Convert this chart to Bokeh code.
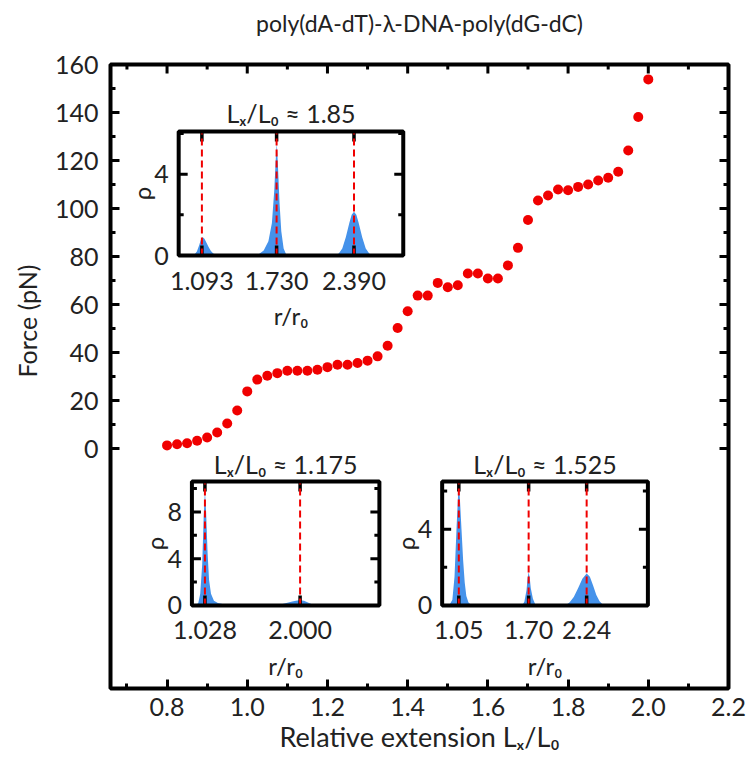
import math
from bokeh.plotting import figure
from bokeh.models import Range1d, FixedTicker, PrintfTickFormatter, Title
from bokeh.core.properties import value
from bokeh.embed import file_html
from bokeh.resources import INLINE

FONT = "Lato"
RED = "#f00000"
BLUE = "#4592ea"
INK = "#222222"

# ---------------- main data ----------------
extension = [0.800, 0.825, 0.850, 0.875, 0.900, 0.925, 0.950, 0.975, 1.000, 1.025,
             1.050, 1.075, 1.100, 1.125, 1.150, 1.175, 1.200, 1.225, 1.250, 1.275,
             1.300, 1.325, 1.350, 1.375, 1.400, 1.425, 1.450, 1.475, 1.500, 1.525,
             1.550, 1.575, 1.600, 1.625, 1.650, 1.675, 1.700, 1.725, 1.750, 1.775,
             1.800, 1.825, 1.850, 1.875, 1.900, 1.925, 1.950, 1.975, 2.000]
force = [1.3, 1.8, 2.2, 3.2, 4.6, 6.7, 10.4, 15.8, 23.8, 28.7,
         30.3, 31.4, 32.4, 32.4, 32.4, 32.8, 33.9, 34.9, 34.9, 35.6,
         36.6, 38.4, 42.8, 50.2, 57.2, 63.7, 63.7, 69.0, 67.2, 68.0,
         72.9, 72.9, 70.8, 70.8, 76.3, 83.6, 95.2, 103.3, 105.4, 107.9,
         107.6, 109.0, 110.0, 111.7, 112.8, 115.3, 124.2, 138.1, 153.8]

x_major = [0.8, 1.0, 1.2, 1.4, 1.6, 1.8, 2.0, 2.2]
x_minor = [0.7, 0.9, 1.1, 1.3, 1.5, 1.7, 1.9, 2.1]
y_major = [0, 20, 40, 60, 80, 100, 120, 140, 160]
y_minor = [10, 30, 50, 70, 90, 110, 130, 150]

# ---------------- inset data ----------------
inset_titles = ["Lₓ/L₀ ≈ 1.85", "Lₓ/L₀ ≈ 1.175", "Lₓ/L₀ ≈ 1.525"]
inset_peaks = [[1.093, 1.730, 2.390], [1.028, 2.000], [1.05, 1.70, 2.24]]
inset_peak_labels = [["1.093", "1.730", "2.390"], ["1.028", "2.000"], ["1.05", "1.70", "2.24"]]
inset_rho_major = [[0, 4], [0, 4, 8], [0, 4]]
inset_rho_minor = [[2, 6], [2, 6, 10], [2, 6]]
inset_rho_max = [6.1, 10.6, 6.5]
r_min, r_max = 0.895, 2.81

r_a = [1.00, 1.03, 1.05, 1.07, 1.085, 1.10, 1.115, 1.13, 1.15, 1.17, 1.19, 1.22, 1.25,
       1.54, 1.58, 1.62, 1.66, 1.69, 1.71, 1.725, 1.732, 1.74, 1.755, 1.77, 1.79, 1.81, 1.83,
       2.22, 2.26, 2.29, 2.32, 2.35, 2.37, 2.39, 2.41, 2.43, 2.46, 2.49, 2.52, 2.55]
rho_a = [0, 0.05, 0.2, 0.5, 0.8, 0.9, 0.82, 0.65, 0.42, 0.22, 0.1, 0.03, 0,
         0, 0.08, 0.25, 0.7, 1.6, 3.2, 5.0, 5.5, 4.6, 2.6, 1.2, 0.35, 0.08, 0,
         0, 0.1, 0.35, 0.9, 1.6, 2.0, 2.15, 2.0, 1.6, 0.9, 0.35, 0.1, 0]

r_b = [0.93, 0.96, 0.98, 1.00, 1.015, 1.028, 1.04, 1.055, 1.07, 1.09, 1.12, 1.16, 1.22, 1.30, 1.36,
       1.74, 1.80, 1.86, 1.92, 1.97, 2.00, 2.04, 2.08, 2.12, 2.16]
rho_b = [0, 0.2, 1.0, 3.5, 7.5, 9.8, 8.0, 4.5, 2.2, 1.0, 0.4, 0.2, 0.1, 0.05, 0,
         0, 0.08, 0.2, 0.33, 0.42, 0.44, 0.4, 0.25, 0.1, 0]

r_c = [0.96, 0.99, 1.01, 1.03, 1.045, 1.052, 1.06, 1.075, 1.09, 1.105, 1.12, 1.14, 1.17,
       1.64, 1.66, 1.68, 1.69, 1.70, 1.71, 1.72, 1.74, 1.76, 1.78,
       2.04, 2.08, 2.12, 2.16, 2.20, 2.24, 2.27, 2.30, 2.33, 2.36, 2.39, 2.41]
rho_c = [0, 0.3, 1.5, 4.2, 6.0, 6.3, 5.6, 4.0, 2.4, 1.2, 0.5, 0.15, 0,
         0, 0.2, 0.8, 1.4, 1.75, 1.45, 0.9, 0.35, 0.08, 0,
         0, 0.15, 0.45, 0.9, 1.4, 1.68, 1.5, 1.05, 0.55, 0.22, 0.05, 0]

inset_r = [r_a, r_b, r_c]
inset_rho = [rho_a, rho_b, rho_c]

# ---------------- layout constants ----------------
X0, X1 = 0.659, 2.2
Y0, Y1 = -100, 160
# inset boxes in main-data coordinates: (left, right, bottom, top)
inset_boxes = [(0.829, 1.389, 80.4, 132.1),
               (0.862, 1.3295, -65.4, -13.75),
               (1.486, 1.999, -65.4, -13.75)]

p = figure(width=750, height=760, x_range=Range1d(X0, X1), y_range=Range1d(Y0, Y1),
           output_backend="svg", toolbar_location=None,
           min_border_left=110, min_border_right=22, min_border_top=64, min_border_bottom=72)
p.xgrid.visible = False
p.ygrid.visible = False
p.outline_line_color = "black"
p.outline_line_width = 4
p.outline_line_alpha = 1.0
p.background_fill_color = "white"
p.border_fill_color = "white"

# a trailing empty line lifts the title line well above the frame
p.title.text = "poly(dA-dT)-λ-DNA-poly(dG-dC)\n "
p.title.align = "center"
p.title.text_font = FONT
p.title.text_font_size = "23px"
p.title.text_font_style = "normal"
p.title.text_color = INK
p.title.standoff = 0

ytitle = Title(text="Force (pN)", align="left", offset=311, vertical_align="top",
               text_font=FONT, text_font_size="25px", text_font_style="normal",
               text_color=INK, standoff=16)
p.add_layout(ytitle, "left")


def style_axis(ax):
    ax.axis_line_color = None
    ax.major_tick_in = 9
    ax.major_tick_out = 0
    ax.minor_tick_in = 5
    ax.minor_tick_out = 0
    ax.major_tick_line_width = 3
    ax.minor_tick_line_width = 3
    ax.major_tick_line_color = "black"
    ax.minor_tick_line_color = "black"
    ax.major_label_text_font = FONT
    ax.major_label_text_font_size = "25px"
    ax.major_label_text_color = INK


p.xaxis.ticker = FixedTicker(ticks=x_major, minor_ticks=x_minor)
p.xaxis.formatter = PrintfTickFormatter(format="%.1f")
style_axis(p.xaxis[0])
p.xaxis.major_label_standoff = 9
p.xaxis.axis_label = "Relative extension Lₓ/L₀"
p.xaxis.axis_label_text_font = FONT
p.xaxis.axis_label_text_font_size = "27px"
p.xaxis.axis_label_text_font_style = "normal"
p.xaxis.axis_label_text_color = INK
p.xaxis.axis_label_standoff = 1

p.yaxis.ticker = FixedTicker(ticks=y_major, minor_ticks=y_minor)
p.yaxis.formatter = PrintfTickFormatter(format="%d")
style_axis(p.yaxis[0])
p.yaxis.major_label_standoff = 12

# mirrored inward ticks on the top and right edges of the frame
tick = dict(length_units="screen", line_color="black", line_width=3)
p.ray(x=x_major, y=[Y1] * len(x_major), length=9, angle=-math.pi / 2, **tick)
p.ray(x=x_minor, y=[Y1] * len(x_minor), length=5, angle=-math.pi / 2, **tick)
p.ray(x=[X1] * len(y_major), y=y_major, length=9, angle=math.pi, **tick)
p.ray(x=[X1] * len(y_minor), y=y_minor, length=5, angle=math.pi, **tick)

# main data points
p.scatter(extension, force, size=10, fill_color=RED, line_color=None)


def extra_range(a0, a1, b0, b1, m0, m1):
    k = (a1 - a0) / (b1 - b0)
    return Range1d(start=a0 - (b0 - m0) * k, end=a1 + (m1 - b1) * k)


txt = dict(text_font=value(FONT), text_color=INK)

for i in range(3):
    bx0, bx1, by0, by1 = inset_boxes[i]
    rmax = inset_rho_max[i]
    xn, yn = f"rx{i}", f"ry{i}"
    p.extra_x_ranges[xn] = extra_range(r_min, r_max, bx0, bx1, X0, X1)
    p.extra_y_ranges[yn] = extra_range(0, rmax, by0, by1, Y0, Y1)
    kw = dict(x_range_name=xn, y_range_name=yn)

    peaks = inset_peaks[i]
    n = len(peaks)
    maj = inset_rho_major[i]
    mnr = inset_rho_minor[i]

    p.quad(left=[r_min], right=[r_max], bottom=[0], top=[rmax],
           fill_color="white", line_color=None, **kw)
    p.varea(x=inset_r[i], y1=[0] * len(inset_r[i]), y2=inset_rho[i],
            fill_color=BLUE, **kw)
    # x ticks at peak positions (bottom and top)
    p.ray(x=peaks, y=[0] * n, length=10, angle=math.pi / 2, length_units="screen",
          line_color="black", line_width=3.5, **kw)
    p.ray(x=peaks, y=[rmax] * n, length=10, angle=-math.pi / 2, length_units="screen",
          line_color="black", line_width=3.5, **kw)
    # y ticks (left and right)
    p.ray(x=[r_min] * len(maj), y=maj, length=9, angle=0, length_units="screen",
          line_color="black", line_width=3, **kw)
    p.ray(x=[r_max] * len(maj), y=maj, length=9, angle=math.pi, length_units="screen",
          line_color="black", line_width=3, **kw)
    p.ray(x=[r_min] * len(mnr), y=mnr, length=5, angle=0, length_units="screen",
          line_color="black", line_width=3, **kw)
    p.ray(x=[r_max] * len(mnr), y=mnr, length=5, angle=math.pi, length_units="screen",
          line_color="black", line_width=3, **kw)
    # red dashed lines
    p.segment(x0=peaks, y0=[0] * n, x1=peaks, y1=[rmax] * n,
              line_color=RED, line_width=2, line_dash="7 4", **kw)
    # frame
    p.quad(left=[r_min], right=[r_max], bottom=[0], top=[rmax],
           fill_color=None, line_color="black", line_width=4, **kw)
    # texts
    p.text(x=peaks, y=[0] * n, text=inset_peak_labels[i], y_offset=25,
           text_align="center", text_baseline="middle", text_font_size="25px", **txt, **kw)
    p.text(x=[r_min] * len(maj), y=maj, text=[str(v) for v in maj], x_offset=-10,
           text_align="right", text_baseline="middle", text_font_size="25px", **txt, **kw)
    p.text(x=[r_min], y=[rmax / 2], text=["ρ"], x_offset=-37, angle=math.pi / 2,
           text_align="center", text_baseline="middle", text_font_size="24px", **txt, **kw)
    p.text(x=[(r_min + r_max) / 2], y=[0], text=["r/r₀"], y_offset=60,
           text_align="center", text_baseline="middle", text_font_size="24px", **txt, **kw)
    p.text(x=[(r_min + r_max) / 2], y=[rmax], text=[inset_titles[i]], y_offset=-18,
           text_align="center", text_baseline="middle", text_font_size="25px", **txt, **kw)

open("out.html", "w").write(file_html(p, INLINE))
